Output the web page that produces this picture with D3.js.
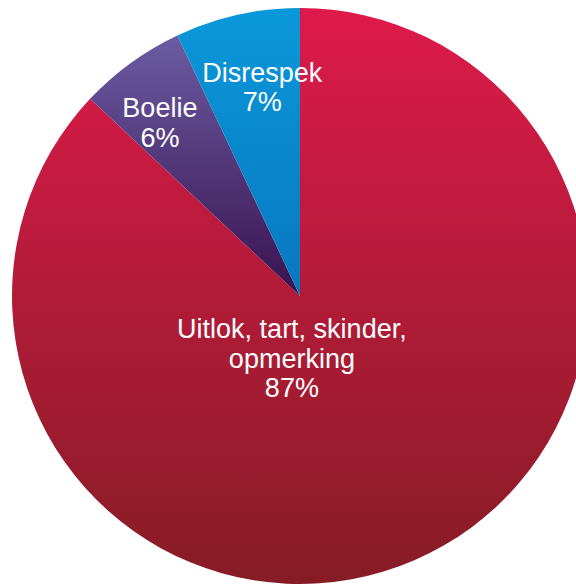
<!DOCTYPE html>
<html>
<head>
<meta charset="utf-8">
<script src="https://cdn.jsdelivr.net/npm/d3@7"></script>
<style>
  html, body { margin: 0; padding: 0; background: #ffffff; }
  svg { display: block; }
  text { font-family: "Liberation Sans", Arial, sans-serif; fill: #ffffff; }
</style>
</head>
<body>
<svg id="chart" width="576" height="586"></svg>
<script>
// Slice data, clockwise from 12 o'clock
const categories = ["Uitlok, tart, skinder, opmerking", "Boelie", "Disrespek"];
const values = [87, 6, 7];
const labelLines = [["Uitlok, tart, skinder,", "opmerking", "87%"], ["Boelie", "6%"], ["Disrespek", "7%"]];
const gradientStops = [["#de1a4b", "#861c25"], ["#6a5ca2", "#3a1250"], ["#0a98da", "#0877c0"]];

const W = 576, H = 586;
const cx = 300, cy = 296, R = 288;

const svg = d3.select("#chart");
const defs = svg.append("defs");

const pie = d3.pie().sort(null).value(d => d.value);
const arc = d3.arc().innerRadius(0).outerRadius(R);

const data = categories.map((c, i) => ({ name: c, value: values[i], lines: labelLines[i], stops: gradientStops[i] }));
const arcs = pie(data);

// One vertical gradient per slice, spanning the slice's own bounding box
arcs.forEach((a, i) => {
  const g = defs.append("linearGradient")
    .attr("id", "grad" + i)
    .attr("x1", 0).attr("y1", 0).attr("x2", 0).attr("y2", 1);
  g.append("stop").attr("offset", "0%").attr("stop-color", a.data.stops[0]);
  g.append("stop").attr("offset", "100%").attr("stop-color", a.data.stops[1]);
});

const g = svg.append("g").attr("transform", `translate(${cx},${cy})`);

g.selectAll("path.slice")
  .data(arcs)
  .join("path")
  .attr("class", "slice")
  .attr("d", arc)
  .attr("fill", (d, i) => `url(#grad${i})`);

// Label anchors: centroid of a scaled arc, with a small horizontal nudge
const labelRadius = [R * 0.47, R * 1.49, R * 1.49];
const labelNudge = [-35, -14, 9];
const fontSize = 27;
const lineH = 29.5;

arcs.forEach((a, i) => {
  const [lx0, ly] = d3.arc().innerRadius(0).outerRadius(labelRadius[i]).centroid(a);
  const lx = lx0 + labelNudge[i];
  const n = a.data.lines.length;
  const t = g.append("text")
    .attr("text-anchor", "middle")
    .attr("font-size", fontSize)
    .attr("x", lx)
    .attr("y", ly - (n - 1) * lineH / 2 + fontSize * 0.36);
  a.data.lines.forEach((ln, j) => {
    t.append("tspan").attr("x", lx).attr("dy", j === 0 ? 0 : lineH).text(ln);
  });
});
</script>
</body>
</html>
